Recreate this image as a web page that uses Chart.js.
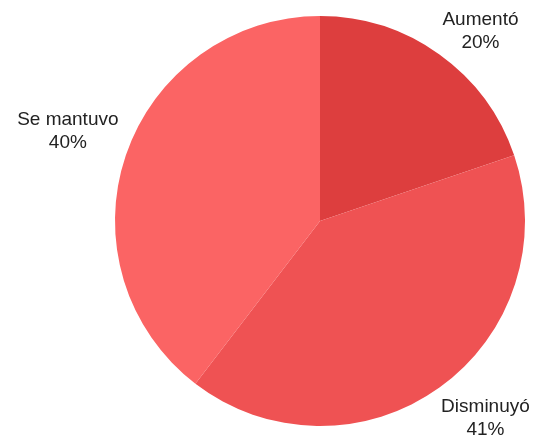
<!DOCTYPE html>
<html>
<head>
<meta charset="utf-8">
<script src="https://cdn.jsdelivr.net/npm/chart.js@4/dist/chart.umd.min.js"></script>
<style>
  html, body { margin: 0; padding: 0; background: #fff; }
  #wrap { width: 537px; height: 439px; }
</style>
</head>
<body>
<div id="wrap"><canvas id="chart"></canvas></div>
<script>
var categories = ['Aumentó', 'Disminuyó', 'Se mantuvo'];
var values = [20, 41, 40];
var percentLabels = ['20%', '41%', '40%'];
var sliceColors = ['#dd3e3e', '#ef5253', '#fb6464'];

// where each outside label sits, relative to the middle of its arc's outer edge
var labelOffsets = [[41, -29], [46, 24], [-58, -30]];

var outsideLabels = {
    id: 'outsideLabels',
    afterDraw: function (chart) {
        var ctx = chart.ctx;
        var arcs = chart.getDatasetMeta(0).data;
        ctx.save();
        ctx.font = '19px "Liberation Sans", Arial, sans-serif';
        ctx.fillStyle = '#222222';
        ctx.textAlign = 'center';
        ctx.textBaseline = 'alphabetic';
        arcs.forEach(function (arc, i) {
            var mid = (arc.startAngle + arc.endAngle) / 2;
            var x = arc.x + Math.cos(mid) * arc.outerRadius + labelOffsets[i][0];
            var y = arc.y + Math.sin(mid) * arc.outerRadius + labelOffsets[i][1];
            ctx.fillText(categories[i], x, y);
            ctx.fillText(percentLabels[i], x, y + 23);
        });
        ctx.restore();
    }
};

new Chart(document.getElementById('chart'), {
    type: 'pie',
    data: {
        labels: categories,
        datasets: [{
            data: values,
            backgroundColor: sliceColors,
            borderWidth: 0
        }]
    },
    options: {
        responsive: true,
        maintainAspectRatio: false,
        animation: false,
        layout: { padding: { left: 115, right: 12, top: 16, bottom: 13 } },
        plugins: {
            legend: { display: false },
            tooltip: { enabled: false }
        }
    },
    plugins: [outsideLabels]
});
</script>
</body>
</html>
